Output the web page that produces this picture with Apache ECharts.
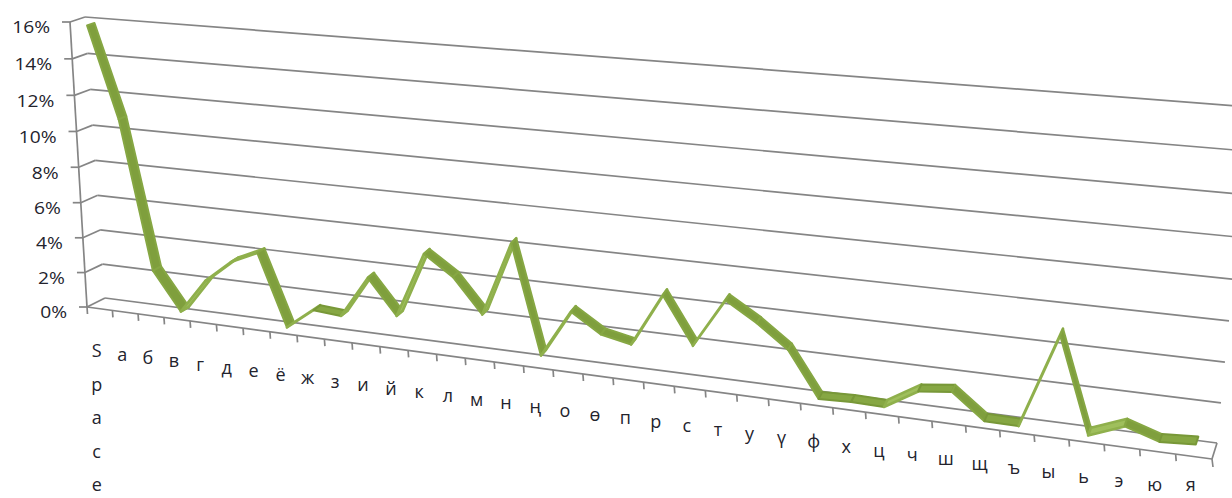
<!DOCTYPE html>
<html>
<head>
<meta charset="utf-8">
<script src="https://cdn.jsdelivr.net/npm/echarts@6/dist/echarts.min.js"></script>
<style>
  html, body { margin: 0; padding: 0; background: #ffffff; }
  #chart { width: 1232px; height: 498px; }
</style>
</head>
<body>
<div id="chart"></div>
<script>
// Letter frequencies (percent) of the Kyrgyz alphabet, space first
const categories = ['Space', 'а', 'б', 'в', 'г', 'д', 'е', 'ё', 'ж', 'з', 'и', 'й', 'к', 'л', 'м', 'н', 'ң',
  'о', 'ө', 'п', 'р', 'с', 'т', 'у', 'ү', 'ф', 'х', 'ц', 'ч', 'ш', 'щ', 'ъ', 'ы', 'ь', 'э', 'ю', 'я'];
const frequency = [15.8, 10.8, 2.45, 0.3, 2.25, 3.5, 4.2, 0.2, 1.37, 1.25, 3.56, 1.65, 5.24, 4.17, 2.33, 6.35, 0.51,
  3.08, 2.07, 1.74, 4.55, 2.09, 4.67, 3.69, 2.5, 0.17, 0.23, 0.2, 1.23, 1.43, 0.16, 0.14, 4.9, 0.14, 0.83, 0.29, 0.4];
const valueTicks = [0, 2, 4, 6, 8, 10, 12, 14, 16];
const tickLabels = ['0%', '2%', '4%', '6%', '8%', '10%', '12%', '14%', '16%'];

const N = categories.length;
const MAX_V = 16;

// Screen corners of the perspective box: [x0 v0], [x0 vMax], [xN v0], [xN vMax]
const BACK_CORNERS = [[105, 298], [85, 17], [1217, 443], [1250, 107]];
const FRONT_CORNERS = [[87, 307], [70, 22], [1212, 459], [1245, 121]];

function solveHomography(src, dst) {
  const A = [];
  for (let k = 0; k < 4; k++) {
    const [x, y] = src[k], [X, Y] = dst[k];
    A.push([x, y, 1, 0, 0, 0, -X * x, -X * y, X]);
    A.push([0, 0, 0, x, y, 1, -Y * x, -Y * y, Y]);
  }
  const n = 8;
  for (let c = 0; c < n; c++) {
    let p = c;
    for (let r = c + 1; r < n; r++) if (Math.abs(A[r][c]) > Math.abs(A[p][c])) p = r;
    [A[c], A[p]] = [A[p], A[c]];
    for (let r = 0; r < n; r++) {
      if (r === c) continue;
      const f = A[r][c] / A[c][c];
      for (let k = c; k <= n; k++) A[r][k] -= f * A[c][k];
    }
  }
  return A.map((row, i) => row[n] / row[i]);
}
function applyH(h, x, y) {
  const w = h[6] * x + h[7] * y + 1;
  return [(h[0] * x + h[1] * y + h[2]) / w, (h[3] * x + h[4] * y + h[5]) / w];
}
const SRC = [[0, 0], [0, MAX_V], [N, 0], [N, MAX_V]];
const H_BACK = solveHomography(SRC, BACK_CORNERS);
const H_FRONT = solveHomography(SRC, FRONT_CORNERS);

// depth z: 0 = front plane, 1 = back wall
function project(X, V, z) {
  const f = applyH(H_FRONT, X, V), b = applyH(H_BACK, X, V);
  return [f[0] + (b[0] - f[0]) * z, f[1] + (b[1] - f[1]) * z];
}
// grid pixel -> box units (category units, value units)
function toBox(pt, cs) {
  return [(pt[0] - cs.x) / cs.width * N, (cs.y + cs.height - pt[1]) / cs.height * MAX_V];
}

const GRID_COLOR = '#858585';
const TEXT_COLOR = '#23232d';
const FONT = '"Open Sans", "Noto Sans", sans-serif';

function line(a, b, w) {
  return { type: 'line', shape: { x1: a[0], y1: a[1], x2: b[0], y2: b[1] },
    style: { stroke: GRID_COLOR, lineWidth: w || 1.7 } };
}

const chart = echarts.init(document.getElementById('chart'), null, { renderer: 'svg' });
chart.setOption({
  animation: false,
  backgroundColor: '#ffffff',
  grid: { left: 0, right: 0, top: 0, bottom: 0 },
  xAxis: { type: 'category', data: categories, show: false },
  yAxis: { type: 'value', min: 0, max: MAX_V, interval: 2, show: false },
  series: [
    {
      // walls: gridlines, value ticks and their labels
      type: 'custom', silent: true, z: 1,
      data: valueTicks.map((v, i) => [0, v, i]),
      encode: { x: 0, y: 1 },
      renderItem(params, api) {
        const cs = params.coordSys;
        const V = toBox(api.coord([0, api.value(1)]), cs)[1];
        const f = project(0, V, 0), s = project(0, V, 1), e = project(N, V, 1);
        return {
          type: 'group',
          children: [
            line(s, e), line(f, s), line([f[0] - 8, f[1]], f),
            { type: 'text', x: f[0] - 20, y: f[1] + 5, scaleX: 1.2,
              style: { text: tickLabels[api.value(2)], font: '16px ' + FONT, fill: TEXT_COLOR,
                align: 'right', verticalAlign: 'middle' } }
          ]
        };
      }
    },
    {
      // front value axis, floor front edge and right edge
      type: 'custom', silent: true, z: 1,
      data: [[0, 0]],
      encode: { x: 0, y: 1 },
      renderItem(params, api) {
        const a = project(0, 0, 0), t = project(0, MAX_V, 0);
        const r = project(N, 0, 0), rb = project(N, 0, 1);
        return {
          type: 'group',
          children: [line(a, t), line(a, r), line(r, rb), line(r, [r[0] + 1, r[1] + 8])]
        };
      }
    },
    {
      // category ticks and labels along the floor front edge
      type: 'custom', silent: true, z: 2,
      data: categories.map((c, i) => [i, 0]),
      encode: { x: 0, y: 1 },
      renderItem(params, api) {
        const cs = params.coordSys;
        const i = api.value(0);
        const X = toBox(api.coord([i, 0]), cs)[0];
        const edge = project(X - 0.5, 0, 0);
        const mid = project(X, 0, 0);
        const name = categories[i];
        const stacked = name.length > 1;
        const dy = 42 - 9 * X / N;
        const label = stacked
          ? { type: 'text', x: mid[0] - 3, y: mid[1] + dy - 17,
              style: { text: name.split('').join('\n'), font: '18px ' + FONT, fill: TEXT_COLOR,
                lineHeight: 33.5, align: 'center', verticalAlign: 'top' } }
          : { type: 'text', x: mid[0] - 3, y: Math.min(mid[1] + dy, 484),
              style: { text: name, font: '18px ' + FONT, fill: TEXT_COLOR,
                lineHeight: 18, align: 'center', verticalAlign: 'middle' } };
        return {
          type: 'group',
          children: [line(edge, [edge[0] + 0.5, edge[1] + 7]), label]
        };
      }
    },
    {
      // the 3D ribbon line
      type: 'custom', silent: true, z: 3,
      data: frequency.slice(0, -1).map((v, i) => [i, v, frequency[i + 1]]),
      encode: { x: 0, y: 1 },
      renderItem(params, api) {
        const cs = params.coordSys;
        const i = api.value(0);
        const a = toBox(api.coord([i, api.value(1)]), cs);
        const c = toBox(api.coord([i + 1, api.value(2)]), cs);
        const z1 = 0.25, z2 = 0.75;
        const pts = [project(a[0], a[1], z1), project(c[0], c[1], z1),
          project(c[0], c[1], z2), project(a[0], a[1], z2)];
        const d = api.value(2) - api.value(1);
        const rising = d > 0.3, falling = d < -0.3;
        const fill = rising ? '#9fbf5c' : (falling ? '#7f9f3d' : '#86a743');
        const stroke = rising ? '#8fb04c' : (falling ? '#86a743' : '#789838');
        return {
          type: 'polygon', shape: { points: pts },
          style: { fill, stroke, lineWidth: rising ? 2.6 : 2, lineJoin: 'round' }
        };
      }
    }
  ]
});
</script>
</body>
</html>
